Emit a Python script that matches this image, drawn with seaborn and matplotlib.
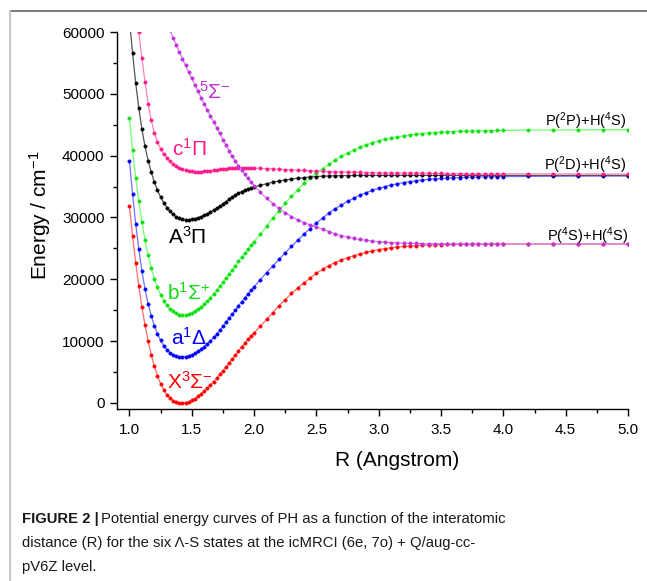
import numpy as np
import matplotlib
matplotlib.use("Agg")
import matplotlib.pyplot as plt
from matplotlib.lines import Line2D
from matplotlib.ticker import MultipleLocator, FormatStrFormatter
from matplotlib import font_manager
import seaborn as sns

# Internuclear distance grid (Angstrom)
r_grid = [1.000, 1.025, 1.050, 1.075, 1.100, 1.125, 1.150, 1.175, 1.200, 1.225,
          1.250, 1.275, 1.300, 1.325, 1.350, 1.375, 1.400, 1.425, 1.450, 1.475,
          1.500, 1.525, 1.550, 1.575, 1.600, 1.625, 1.650, 1.675, 1.700, 1.725,
          1.750, 1.775, 1.800, 1.825, 1.850, 1.875, 1.900, 1.925, 1.950, 1.975,
          2.000,
          2.05, 2.10, 2.15, 2.20, 2.25, 2.30, 2.35, 2.40, 2.45, 2.50,
          2.55, 2.60, 2.65, 2.70, 2.75, 2.80, 2.85, 2.90, 2.95, 3.00,
          3.05, 3.10, 3.15, 3.20, 3.25, 3.30, 3.35, 3.40, 3.45, 3.50,
          3.55, 3.60, 3.65, 3.70, 3.75, 3.80, 3.85, 3.90, 3.95, 4.00,
          4.20, 4.40, 4.60, 4.80, 5.00]

# Potential energies (cm^-1) of the six Lambda-S states
e_X3Sigma = [31800, 27000, 22700, 18900, 15500, 12600, 10000, 7800, 5900, 4400,
             3100, 2100, 1300, 750, 350, 120, 20, 0, 40, 180,
             400, 700, 1050, 1450, 1900, 2400, 2900, 3450, 4000, 4600,
             5200, 5800, 6450, 7100, 7750, 8400, 9050, 9650, 10250, 10800,
             11300,
             12400, 13500, 14600, 15700, 16700, 17700, 18600, 19400, 20200, 21000,
             21600, 22200, 22700, 23100, 23500, 23800, 24100, 24350, 24600, 24800,
             24950, 25100, 25200, 25300, 25380, 25450, 25500, 25540, 25580, 25610,
             25630, 25650, 25660, 25670, 25680, 25690, 25690, 25700, 25700, 25700,
             25700, 25700, 25700, 25700, 25700]

e_a1Delta = [39200, 33800, 29000, 24900, 21300, 18400, 16000, 14100, 12500, 11200,
             10100, 9250, 8600, 8100, 7750, 7520, 7420, 7400, 7450, 7580,
             7780, 8030, 8330, 8680, 9080, 9530, 10030, 10580, 11150, 11750,
             12380, 13030, 13700, 14370, 15040, 15700, 16350, 16980, 17600, 18200,
             18780,
             19950, 21050, 22150, 23200, 24300, 25300, 26300, 27300, 28200, 29100,
             29900, 30700, 31400, 32000, 32600, 33100, 33600, 34000, 34400, 34700,
             35000, 35250, 35450, 35650, 35800, 35950, 36050, 36150, 36230, 36300,
             36360, 36410, 36450, 36490, 36520, 36550, 36570, 36590, 36600, 36610,
             36640, 36660, 36680, 36690, 36700]

e_b1Sigma = [46100, 40900, 36400, 32600, 29300, 26400, 23900, 21800, 20100, 18700,
             17500, 16550, 15800, 15200, 14780, 14470, 14280, 14200, 14220, 14330,
             14500, 14780, 15120, 15520, 15970, 16470, 17010, 17590, 18200, 18840,
             19500, 20170, 20850, 21530, 22210, 22880, 23540, 24190, 24830, 25460,
             26080,
             27300, 28600, 29900, 31100, 32300, 33400, 34500, 35500, 36400, 37200,
             37900, 38600, 39300, 39900, 40400, 40900, 41350, 41750, 42100, 42400,
             42650, 42850, 43050, 43200, 43350, 43470, 43570, 43660, 43740, 43800,
             43860, 43900, 43940, 43970, 44000, 44020, 44040, 44060, 44070, 44080,
             44120, 44150, 44170, 44190, 44200]

e_A3Pi = [62000, 56600, 51800, 47700, 44300, 41500, 39200, 37300, 35700, 34400,
          33300, 32400, 31600, 31000, 30500, 30150, 29900, 29730, 29650, 29640,
          29700, 29800, 29950, 30130, 30350, 30600, 30880, 31180, 31500, 31840,
          32200, 32570, 32940, 33300, 33630, 33930, 34190, 34410, 34600, 34760,
          34900,
          35200, 35450, 35700, 35900, 36050, 36200, 36330, 36450, 36550, 36620,
          36680, 36720, 36750, 36770, 36780, 36790, 36800, 36800, 36800, 36800,
          36800, 36800, 36800, 36800, 36800, 36800, 36800, 36800, 36800, 36800,
          36800, 36800, 36800, 36800, 36800, 36800, 36800, 36800, 36800, 36800,
          36800, 36800, 36800, 36800, 36800]

# c1Pi is computed from 1.05 A outwards
e_c1Pi = [64500, 60000, 55800, 51900, 48400, 45700, 43700, 42200,
          41100, 40250, 39600, 39050, 38600, 38250, 37980, 37780, 37640, 37530,
          37460, 37420, 37400, 37410, 37440, 37490, 37560, 37640, 37720, 37790,
          37850, 37900, 37940, 37970, 37990, 38000, 38000, 38000, 37990, 37980,
          37970,
          37940, 37900, 37850, 37800, 37750, 37700, 37650, 37600, 37550, 37500,
          37460, 37420, 37390, 37360, 37330, 37300, 37280, 37260, 37240, 37220,
          37200, 37190, 37180, 37170, 37160, 37150, 37140, 37130, 37120, 37110,
          37100, 37100, 37090, 37090, 37080, 37080, 37070, 37070, 37060, 37060,
          37050, 37040, 37030, 37020, 37000]

# 5Sigma- is computed from 1.30 A outwards
e_5Sigma = [61500, 60300, 59100, 57900, 56800, 55700, 54600, 53500,
            52500, 51400, 50400, 49400, 48400, 47400, 46400, 45500, 44500, 43600,
            42600, 41700, 40800, 39900, 39150, 38400, 37650, 36950, 36300, 35700,
            35150,
            34050, 33100, 32250, 31450, 30750, 30150, 29600, 29150, 28800, 28450,
            28100, 27700, 27350, 27050, 26800, 26600, 26430, 26290, 26170, 26070,
            25990, 25930, 25880, 25840, 25810, 25790, 25770, 25750, 25740, 25730,
            25725, 25720, 25715, 25710, 25710, 25705, 25705, 25700, 25700, 25700,
            25700, 25700, 25700, 25700, 25700]

r_c1Pi = r_grid[2:]
r_5Sigma = r_grid[12:]

states = [
    # (r, energy, marker colour, line colour)
    (r_grid, e_X3Sigma, "#ff0000", "#ff6a6a"),
    (r_grid, e_a1Delta, "#0000ff", "#7070ff"),
    (r_grid, e_b1Sigma, "#10e010", "#70ff70"),
    (r_grid, e_A3Pi, "#000000", "#555555"),
    (r_c1Pi, e_c1Pi, "#ff1a8c", "#ff80bb"),
    (r_5Sigma, e_5Sigma, "#c030d8", "#d580e8"),
]

sns.set_theme(style="ticks")
plt.rcParams["font.family"] = ["Liberation Sans", "DejaVu Sans"]
plt.rcParams["mathtext.fontset"] = "custom"
plt.rcParams["mathtext.rm"] = "Liberation Sans"
plt.rcParams["mathtext.it"] = "Liberation Sans:italic"
plt.rcParams["mathtext.bf"] = "Liberation Sans:bold"

fig = plt.figure(figsize=(6.47, 5.81), dpi=100)
ax = fig.add_axes([0.1808, 0.2960, 0.7898, 0.6489])

for r, e, mc, lc in states:
    sns.lineplot(x=r, y=e, ax=ax, color=lc, linewidth=0.9, marker="o",
                 markersize=2.4, markerfacecolor=mc, markeredgecolor=mc,
                 markeredgewidth=0.4, estimator=None, sort=False, legend=False)

ax.set_xlim(0.9, 5.0)
ax.set_ylim(-1000, 60000)
ax.xaxis.set_major_locator(MultipleLocator(0.5))
ax.xaxis.set_minor_locator(MultipleLocator(0.25))
ax.xaxis.set_major_formatter(FormatStrFormatter("%.1f"))
ax.yaxis.set_major_locator(MultipleLocator(10000))
ax.yaxis.set_minor_locator(MultipleLocator(5000))
ax.yaxis.set_major_formatter(FormatStrFormatter("%d"))

for side in ("top", "right"):
    ax.spines[side].set_visible(False)
for side in ("left", "bottom"):
    ax.spines[side].set_linewidth(1.0)
    ax.spines[side].set_color("black")

ax.tick_params(which="major", direction="out", length=5, width=1.0,
               labelsize=11, colors="black")
ax.tick_params(which="minor", direction="out", length=3, width=1.0, colors="black")
ax.tick_params(axis="x", which="major", pad=5)
ax.tick_params(axis="y", which="major", pad=4)

ax.set_xlabel("R (Angstrom)", fontsize=15, color="black")
ax.set_ylabel("Energy / cm$^{-1}$", fontsize=15, color="black")
ax.xaxis.set_label_coords(0.548, -0.112)
ax.yaxis.set_label_coords(-0.125, 0.515)

# State labels
label_kw = dict(fontsize=15, ha="left", va="center")
ax.text(1.56, 50300, r"$^5\Sigma^{-}$", color="#c030d0", **label_kw)
ax.text(1.345, 41100, r"c$^1\Pi$", color="#ff1a8c", **label_kw)
ax.text(1.31, 26900, r"A$^3\Pi$", color="black", **label_kw)
ax.text(1.305, 17800, r"b$^1\Sigma^{+}$", color="#10dd10", **label_kw)
ax.text(1.33, 10500, r"a$^1\Delta$", color="#0000ff", **label_kw)
ax.text(1.305, 3400, r"X$^3\Sigma^{-}$", color="#ff0000", **label_kw)

# Dissociation limits
lim_kw = dict(fontsize=10.5, ha="center", va="center", color="black")
ax.text(4.66, 45600, r"P($^2$P)+H($^4$S)", **lim_kw)
ax.text(4.66, 38500, r"P($^2$D)+H($^4$S)", **lim_kw)
ax.text(4.68, 27000, r"P($^4$S)+H($^4$S)", **lim_kw)

# Panel frame lines
fig.add_artist(Line2D([10 / 647, 1.0], [1 - 10.5 / 581, 1 - 10.5 / 581],
                      transform=fig.transFigure, color="#7a7a7a", linewidth=1.4))
fig.add_artist(Line2D([9.5 / 647, 9.5 / 647], [0.0, 1 - 10.5 / 581],
                      transform=fig.transFigure, color="#c4c4c4", linewidth=1.4))

# Caption
avail = {f.name for f in font_manager.fontManager.ttflist}
cap_family = "Liberation Sans Narrow" if "Liberation Sans Narrow" in avail else "Liberation Sans"
cap_size = 12.5 if cap_family == "Liberation Sans Narrow" else 10.7
x0 = 22 / 647
lines_y = [1 - 523 / 581, 1 - 547 / 581, 1 - 571 / 581]
renderer = fig.canvas.get_renderer()
head = fig.text(x0, lines_y[0], "FIGURE 2 |", fontsize=cap_size, fontweight="bold",
                family=cap_family, color="#1a1a1a", va="baseline", ha="left")
bb = head.get_window_extent(renderer)
fig.text(bb.x1 / fig.bbox.width + 0.004, lines_y[0],
         "Potential energy curves of PH as a function of the interatomic",
         fontsize=cap_size, family=cap_family, color="#1a1a1a", va="baseline", ha="left")
fig.text(x0, lines_y[1],
         "distance (R) for the six \u039b-S states at the icMRCI (6e, 7o) + Q/aug-cc-",
         fontsize=cap_size, family=cap_family, color="#1a1a1a", va="baseline", ha="left")
fig.text(x0, lines_y[2], "pV6Z level.",
         fontsize=cap_size, family=cap_family, color="#1a1a1a", va="baseline", ha="left")

fig.savefig("out.png", dpi=100)
